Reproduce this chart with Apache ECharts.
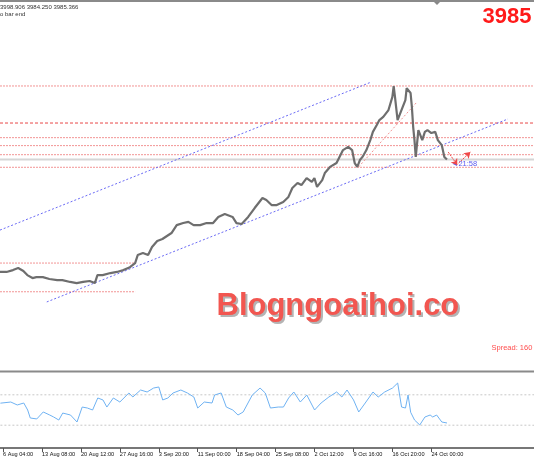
<!DOCTYPE html>
<html><head><meta charset="utf-8">
<script src="https://cdn.jsdelivr.net/npm/echarts@6/dist/echarts.min.js"></script>
<style>html,body{margin:0;padding:0;background:#fff}#c{width:534px;height:462px}</style>
</head><body><div id="c"></div>
<script>
// ---- data ----
const barCount = 412;
const timeLabels = ['6 Aug 04:00','13 Aug 08:00','20 Aug 12:00','27 Aug 16:00','3 Sep 20:00','11 Sep 00:00','18 Sep 04:00','25 Sep 08:00','2 Oct 12:00','9 Oct 16:00','16 Oct 20:00','24 Oct 00:00'];
const timeLabelBars = [2,32,62,92,122,152,182,212,242,272,302,332];

const priceBars = [0,5,10,14,18,21,25,28,33,38,44,48,54,59,64,69,73,75,79,85,90,95,100,104,106,110,114,117,121,125,132,136,141,145,149,154,159,164,168,173,179,182,186,191,196,202,205,209,213,218,222,225,229,232,236,240,242,244,248,250,254,259,264,268,271,273,275,277,279,282,285,287,290,292,295,299,302,303,304,306,309,312,313,316,317,318,319,320,322,325,327,329,332,335,337,340,342,344];
const priceClose = [3378,3378,3388,3399,3383,3361,3345,3350,3350,3340,3334,3334,3324,3318,3324,3329,3318,3361,3361,3372,3378,3388,3404,3426,3469,3480,3469,3513,3545,3556,3588,3631,3642,3648,3631,3631,3642,3642,3675,3691,3675,3642,3637,3675,3723,3777,3766,3739,3739,3756,3783,3831,3858,3847,3885,3864,3885,3837,3874,3912,3945,3966,4036,4053,4036,3966,3945,3982,3999,4036,4090,4134,4171,4198,4215,4252,4323,4381,4323,4198,4252,4306,4370,4344,4269,4161,4090,3999,4144,4090,4134,4144,4128,4134,4090,4063,3999,3985];

const rsiBars = [0,8,13,18,21,23,28,33,38,41,45,48,54,59,63,67,71,75,79,82,87,92,99,102,108,113,118,122,125,129,133,139,144,149,152,157,163,165,170,174,179,183,187,194,200,204,208,214,218,222,226,231,236,242,247,253,259,263,267,272,276,281,287,291,296,302,306,309,312,314,316,319,323,327,331,333,336,340,344];
const rsiValues = [59,60.5,56.6,59.2,50,39.5,38.2,47.4,43.4,40.8,36.8,46,43.4,34.2,53.9,52.6,50,65.8,63.2,53.9,65.8,60.5,72.4,67.1,76.3,73.7,78.9,80.3,63.2,65.8,72.4,76.3,72.4,67.1,52.6,60.5,59.2,69.7,72.4,53.9,50,43.4,47.4,69.7,78.9,72.4,52.6,53.9,53.9,65.8,73.7,60.5,69.7,50,59.2,67.1,73.7,67.1,76.3,63.2,47.4,59.2,73.7,67.1,73.7,78.9,85.5,53.9,52.6,69.7,47,36.8,30.3,40.8,43.4,40.8,43.4,34.2,32.9];
const rsiLevels = [70, 30];

const waveNames = ['(1)','(2)','(3)','(4)','(5)'];
const waveBars = [13,78,266,276,302];
const wavePrices = [3458,3269,4096,3890,4436];

const levelPrices = [4382,4182,4103,4060,4011,3943];
const bidPrice = 3985;
const supportPrices = [3426,3271];
const supportBars = [0,104];
const upperChannel = [[0,3604],[286,4404]];
const lowerChannel = [[36,3216],[391,4204]];
const waveTrend = [[276,3945],[321,4296]];
const arrowDown = [[345,4025],[352,3955]];
const arrowUp = [[353,3966],[362,4025]];

// ---- chart ----
const FONT = 'Liberation Sans';
const cats = Array.from({length: barCount}, (_, i) => String(i));
const zip = (a, b) => a.map((v, i) => [v, b[i]]);
const isLabelBar = (i) => timeLabelBars.indexOf(i) >= 0;
const fullSpan = [0, barCount - 1];

const chart = echarts.init(document.getElementById('c'), null, {renderer: 'canvas'});

function segSeries(points, color, type, width, z) {
  return {
    type: 'line', xAxisIndex: 0, yAxisIndex: 0, data: points, showSymbol: false, silent: true,
    lineStyle: {color: color, type: type, width: width || 1}, itemStyle: {color: color}, z: z || 3
  };
}

const series = [];
// bid line
series.push(segSeries(fullSpan.map(b => [b, bidPrice]), '#d6d6d6', 'solid', 2, 1));
// horizontal levels
levelPrices.forEach((p, i) => {
  series.push(segSeries(fullSpan.map(b => [b, p]),
    i === 1 ? '#e84848' : '#f29494', i === 1 ? [3, 2] : [2, 1], 1, 2));
});
supportPrices.forEach(p => series.push(segSeries(supportBars.map(b => [b, p]), '#f29494', [2, 1], 1, 2)));
series.push(segSeries(upperChannel, '#6a6af5', [2, 2]));
series.push(segSeries(lowerChannel, '#6a6af5', [2, 2]));
series.push(segSeries(waveTrend, '#f29494', [2, 2]));
// price
series.push({
  type: 'line', xAxisIndex: 0, yAxisIndex: 0, data: zip(priceBars, priceClose),
  showSymbol: false, lineStyle: {color: '#6e6e6e', width: 2.2}, z: 4
});
// arrows
series.push({
  type: 'line', xAxisIndex: 0, yAxisIndex: 0, data: [], silent: true, z: 5,
  markLine: {
    silent: true, symbol: ['none', 'arrow'], symbolSize: 6, label: {show: false}, animation: false,
    itemStyle: {color: '#f04848'},
    lineStyle: {color: '#f04848', type: [2, 1], width: 1},
    data: [
      [{coord: arrowDown[0]}, {coord: arrowDown[1]}],
      [{coord: arrowUp[0]}, {coord: arrowUp[1]}]
    ]
  }
});
// wave labels
series.push({
  type: 'scatter', xAxisIndex: 0, yAxisIndex: 0, symbolSize: 1, itemStyle: {opacity: 0}, silent: true,
  data: waveNames.map((n, i) => ({name: n, value: [waveBars[i], wavePrices[i]]})),
  label: {show: true, position: 'inside', formatter: '{b}', color: '#a3302f', fontSize: 11, fontFamily: FONT},
  z: 6
});
// RSI levels + line
rsiLevels.forEach(v => series.push({
  type: 'line', xAxisIndex: 1, yAxisIndex: 1, data: fullSpan.map(b => [b, v]), showSymbol: false, silent: true,
  lineStyle: {color: '#c8c8c8', type: [2, 2], width: 1}, z: 1
}));
series.push({
  type: 'line', xAxisIndex: 1, yAxisIndex: 1, data: zip(rsiBars, rsiValues),
  showSymbol: false, lineStyle: {color: '#6fb2f2', width: 1}, z: 3
});

const option = {
  animation: false,
  backgroundColor: '#ffffff',
  grid: [
    {left: 0, right: 0, top: 3, height: 366},
    {left: 0, right: 0, top: 372, height: 76}
  ],
  xAxis: [
    {type: 'category', gridIndex: 0, data: cats, boundaryGap: false, show: false},
    {
      type: 'category', gridIndex: 1, data: cats, boundaryGap: false,
      axisLine: {lineStyle: {color: '#777', width: 2}},
      axisTick: {interval: isLabelBar, length: 4, lineStyle: {color: '#555'}},
      axisLabel: {
        interval: isLabelBar, align: 'left', margin: 3, fontSize: 5.6, color: '#111', fontFamily: FONT,
        hideOverlap: false,
        formatter: (v) => { const k = timeLabelBars.indexOf(Number(v)); return k >= 0 ? timeLabels[k] : ''; }
      },
      splitLine: {show: false}
    }
  ],
  yAxis: [
    {type: 'value', gridIndex: 0, min: 2854, max: 4830, show: false, splitLine: {show: false}},
    {type: 'value', gridIndex: 1, min: 0, max: 100, show: false, splitLine: {show: false}}
  ],
  graphic: [
    {type: 'rect', shape: {x: 0, y: 0, width: 534, height: 2}, style: {fill: '#8a8a8a'}, silent: true},
    {type: 'rect', shape: {x: 0, y: 370.5, width: 534, height: 2}, style: {fill: '#8a8a8a'}, silent: true},
    {type: 'polygon', shape: {points: [[434, 2], [440, 2], [437, 5]]}, style: {fill: '#888'}, silent: true},
    {type: 'text', style: {text: '3998.906 3984.250 3985.366', x: 0, y: 7, fill: '#333', font: '6px "Liberation Sans"', textVerticalAlign: 'middle', verticalAlign: 'middle'}},
    {type: 'text', style: {text: 'o bar end', x: 0, y: 14.7, fill: '#333', font: '6px "Liberation Sans"', textVerticalAlign: 'middle', verticalAlign: 'middle'}},
    {type: 'text', style: {text: '3985', x: 482.5, y: 16.7, fill: '#ff1a1a', font: 'bold 22px "Liberation Sans"', textVerticalAlign: 'middle', verticalAlign: 'middle'}},
    {type: 'text', style: {text: 'Blogngoaihoi.co', x: 218.5, y: 308, fill: '#b4b4b4', font: 'bold 31px "Liberation Sans"', textVerticalAlign: 'middle', verticalAlign: 'middle'}},
    {type: 'text', style: {text: 'Blogngoaihoi.co', x: 216.5, y: 306, fill: '#f25650', font: 'bold 31px "Liberation Sans"', textVerticalAlign: 'middle', verticalAlign: 'middle'}},
    {type: 'text', style: {text: 'Spread: 160', x: 491.5, y: 347.5, fill: '#ff4d4d', font: '7.5px "Liberation Sans"', textVerticalAlign: 'middle', verticalAlign: 'middle'}},
    {type: 'text', style: {text: '\u25C421:58', x: 451, y: 163.5, fill: '#5a5af0', font: '7.5px "Liberation Sans"', textVerticalAlign: 'middle', verticalAlign: 'middle'}}
  ],
  series: series
};
chart.setOption(option);
</script>
</body></html>
